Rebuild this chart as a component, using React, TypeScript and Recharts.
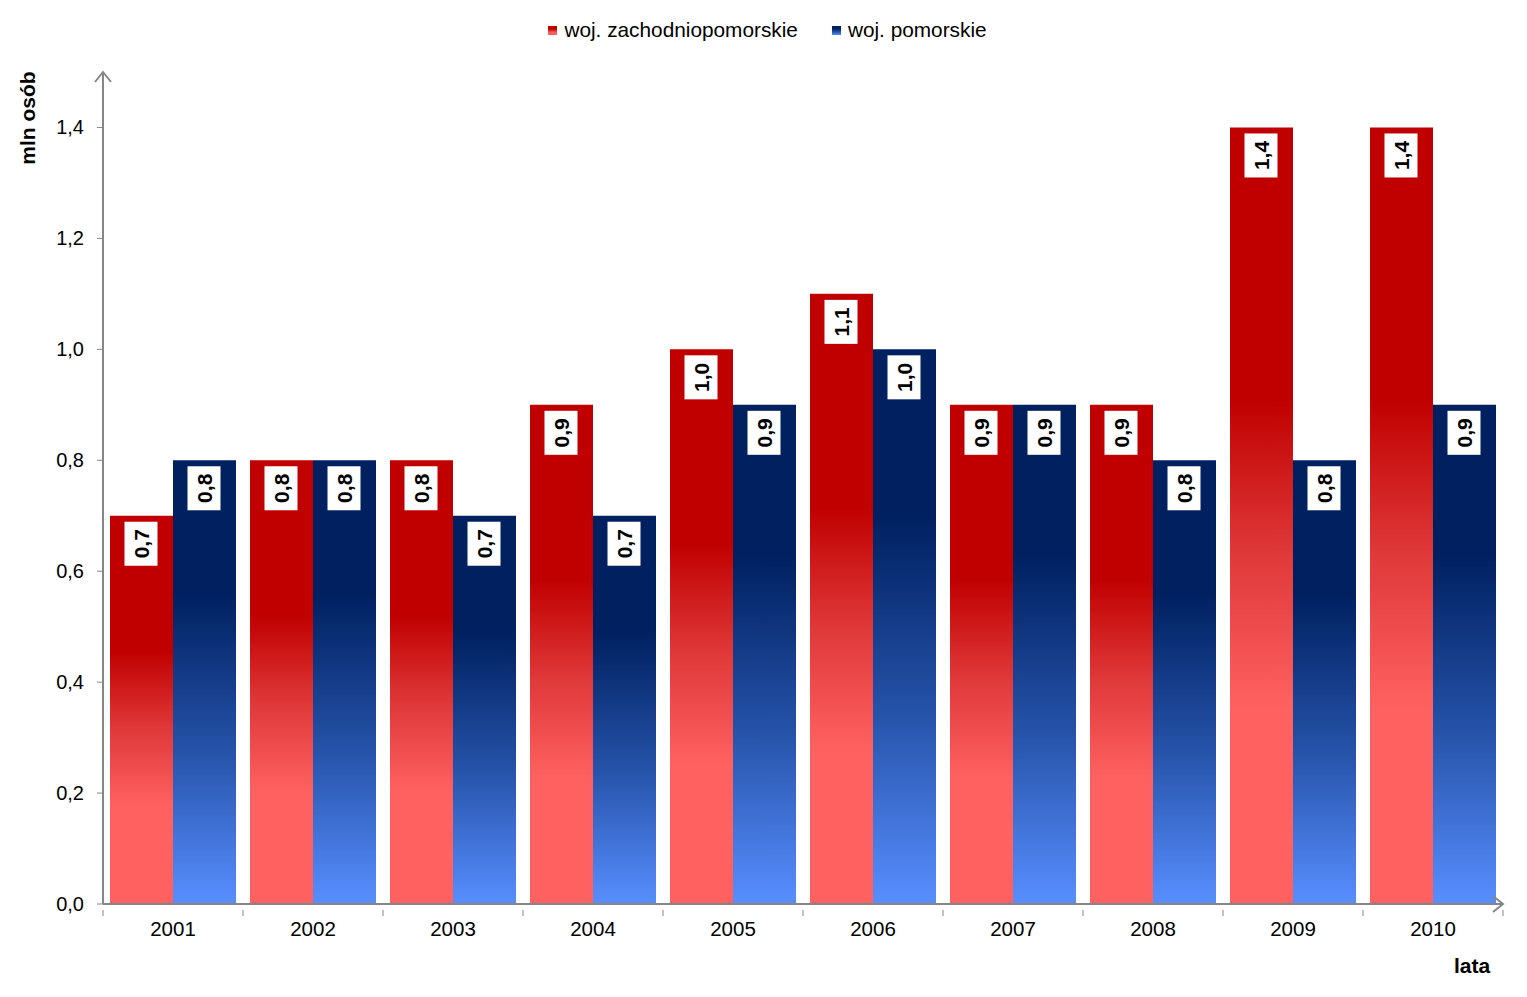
import React from 'react';
import { BarChart, Bar, XAxis, YAxis, Legend, LabelList, ReferenceLine } from 'recharts';

const years = ['2001', '2002', '2003', '2004', '2005', '2006', '2007', '2008', '2009', '2010'];
const zachodniopomorskie = [0.7, 0.8, 0.8, 0.9, 1.0, 1.1, 0.9, 0.9, 1.4, 1.4];
const pomorskie = [0.8, 0.8, 0.7, 0.7, 0.9, 1.0, 0.9, 0.8, 0.8, 0.9];
const yTicks = [0, 0.2, 0.4, 0.6, 0.8, 1.0, 1.2, 1.4];

const data = years.map((year, i) => ({
  year,
  zach: zachodniopomorskie[i],
  pom: pomorskie[i],
}));

const FONT = '"Liberation Sans", Arial, sans-serif';
const AXIS = '#868686';

const fmt = (v: number) => v.toFixed(1).replace('.', ',');

function ValueBox(props: any) {
  const { x, y, width, value } = props;
  const cx = x + width / 2;
  const top = y + 6;
  return (
    <g>
      <rect x={cx - 17} y={top} width={33} height={44} fill="#fff" />
      <text
        x={cx}
        y={top + 22}
        transform={`rotate(-90 ${cx} ${top + 22})`}
        textAnchor="middle"
        dominantBaseline="central"
        fontFamily={FONT}
        fontWeight="bold"
        fontSize={21}
        fill="#000"
      >
        {fmt(value)}
      </text>
    </g>
  );
}

function YTick(props: any) {
  const { x, y, payload } = props;
  const axisX = x + 19;
  return (
    <g>
      <line x1={axisX - 6} y1={y} x2={axisX} y2={y} stroke={AXIS} strokeWidth={1} />
      <text x={x} y={y} textAnchor="end" dominantBaseline="central" fontFamily={FONT} fontSize={20} fill="#000">
        {fmt(payload.value)}
      </text>
    </g>
  );
}

function XTick(props: any) {
  const { x, y, payload, index, width, visibleTicksCount } = props;
  const band = width / visibleTicksCount;
  const axisY = y - 8;
  const left = x - band / 2;
  return (
    <g>
      <line x1={left} y1={axisY} x2={left} y2={axisY + 6} stroke={AXIS} strokeWidth={1} />
      {index === visibleTicksCount - 1 && (
        <line x1={left + band} y1={axisY} x2={left + band} y2={axisY + 6} stroke={AXIS} strokeWidth={1} />
      )}
      <text x={x} y={axisY + 18} textAnchor="middle" dominantBaseline="central" fontFamily={FONT} fontSize={20.5} fill="#000">
        {payload.value}
      </text>
    </g>
  );
}

function UpArrow(props: any) {
  const { viewBox } = props;
  const x = viewBox.x;
  const y = viewBox.y;
  return (
    <path d={`M${x - 8} ${y + 10} L${x} ${y} L${x + 8} ${y + 10}`} fill="none" stroke={AXIS} strokeWidth={2} />
  );
}

function RightArrow(props: any) {
  const { viewBox } = props;
  const x = viewBox.x + viewBox.width;
  const y = viewBox.y;
  return (
    <path d={`M${x - 10} ${y - 8} L${x} ${y} L${x - 10} ${y + 8}`} fill="none" stroke={AXIS} strokeWidth={2} />
  );
}

function LegendContent() {
  const items = [
    { name: 'woj. zachodniopomorskie', grad: 'url(#redGrad)' },
    { name: 'woj. pomorskie', grad: 'url(#blueGrad)' },
  ];
  return (
    <div style={{ display: 'flex', justifyContent: 'center', gap: 34, fontFamily: FONT, fontSize: 20.8, color: '#000' }}>
      {items.map((it) => (
        <div key={it.name} style={{ display: 'flex', alignItems: 'center' }}>
          <svg width={9} height={9} style={{ marginRight: 7 }}>
            <rect width={9} height={9} fill={it.grad} />
          </svg>
          <span>{it.name}</span>
        </div>
      ))}
    </div>
  );
}

export default function App() {
  return (
    <div style={{ position: 'relative', width: 1519, height: 989 }}>
      <BarChart
        width={1519}
        height={989}
        data={data}
        margin={{ top: 64, right: 24, left: 0, bottom: 63 }}
        barCategoryGap="5%"
        barGap={0}
      >
        <defs>
          <linearGradient id="redGrad" x1="0" y1="0" x2="0" y2="1">
            <stop offset="0" stopColor="#C00000" />
            <stop offset="0.35" stopColor="#C00000" />
            <stop offset="0.55" stopColor="#E0393A" />
            <stop offset="0.75" stopColor="#FF6161" />
            <stop offset="1" stopColor="#FF6161" />
          </linearGradient>
          <linearGradient id="blueGrad" x1="0" y1="0" x2="0" y2="1">
            <stop offset="0" stopColor="#002060" />
            <stop offset="0.3" stopColor="#002060" />
            <stop offset="0.65" stopColor="#2552A8" />
            <stop offset="1" stopColor="#588EFF" />
          </linearGradient>
        </defs>
        <XAxis
          dataKey="year"
          stroke={AXIS}
          strokeWidth={2}
          tickLine={false}
          tickMargin={8}
          tick={<XTick />}
          height={30}
          interval={0}
        />
        <YAxis
          domain={[0, 1.5]}
          ticks={yTicks}
          width={95}
          stroke={AXIS}
          strokeWidth={2}
          tickLine={false}
          tickSize={6}
          tickMargin={13}
          tick={<YTick />}
          allowDataOverflow
        />
        <ReferenceLine y={1.5} stroke="none" label={<UpArrow />} />
        <ReferenceLine y={0} stroke={AXIS} strokeWidth={2} label={<RightArrow />} />
        <Legend
          verticalAlign="middle"
          layout="horizontal"
          content={<LegendContent />}
          wrapperStyle={{ top: 10, left: 0, width: 1519 }}
        />
        <Bar dataKey="zach" name="woj. zachodniopomorskie" fill="url(#redGrad)" isAnimationActive={false}>
          <LabelList dataKey="zach" content={<ValueBox />} />
        </Bar>
        <Bar dataKey="pom" name="woj. pomorskie" fill="url(#blueGrad)" isAnimationActive={false}>
          <LabelList dataKey="pom" content={<ValueBox />} />
        </Bar>
      </BarChart>
      <div
        style={{
          position: 'absolute',
          left: 20,
          top: 110,
          transform: 'translate(-50%, -50%) rotate(-90deg)',
          fontFamily: FONT,
          fontWeight: 'bold',
          fontSize: 21,
          whiteSpace: 'nowrap',
        }}
      >
        mln osób
      </div>
      <div
        style={{
          position: 'absolute',
          left: 1446,
          top: 946,
          fontFamily: FONT,
          fontWeight: 'bold',
          fontSize: 21,
        }}
      >
        lata
      </div>
    </div>
  );
}
